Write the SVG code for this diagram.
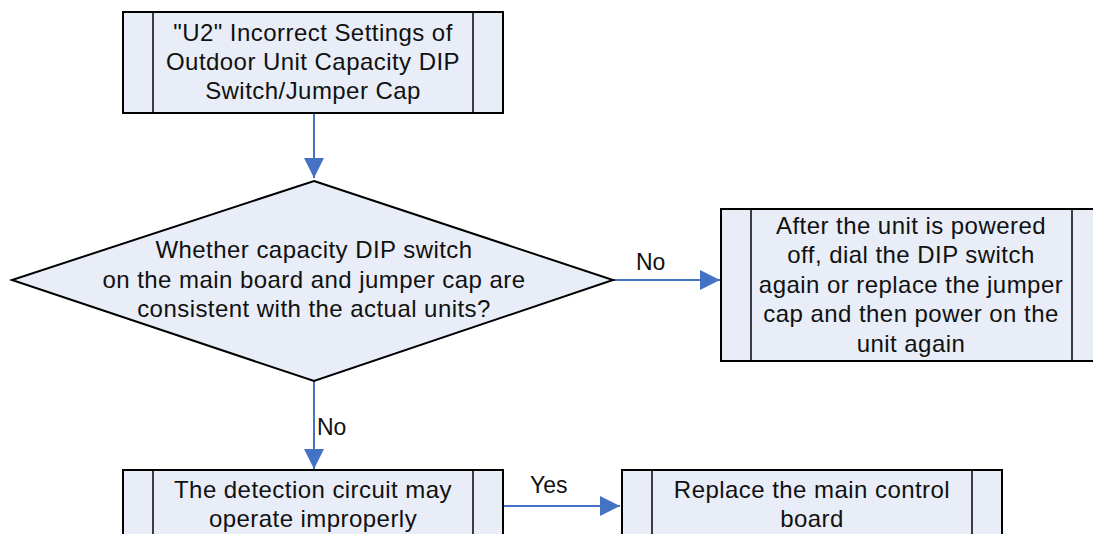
<svg xmlns="http://www.w3.org/2000/svg" width="1093" height="534" viewBox="0 0 1093 534">
<style>
.box{fill:#E8EDF7;stroke:#000;stroke-width:2}
.div{stroke:#000;stroke-width:1.5;fill:none}
.t{font-family:"Liberation Sans",Arial,sans-serif;font-size:24px;letter-spacing:0.45px;fill:#111;text-anchor:middle}
.lbl{font-family:"Liberation Sans",Arial,sans-serif;font-size:23px;fill:#111}
.c{stroke:#4472C4;stroke-width:2;fill:none;marker-end:url(#ah)}
</style>
<defs>
<marker id="ah" viewBox="0 0 20 20" refX="20" refY="10" markerWidth="20" markerHeight="20" markerUnits="userSpaceOnUse" orient="auto">
<path d="M0,0 L20,10 L0,20 z" fill="#4472C4"/>
</marker>
</defs>
<g id="connectors">
<path class="c" d="M314,113 L314,178"/>
<path class="c" d="M613,280 L720,280"/>
<path class="c" d="M314,381 L314,469"/>
<path class="c" d="M503,506 L620,506"/>
<text class="lbl" x="636" y="270">No</text>
<text class="lbl" x="317" y="435">No</text>
<text class="lbl" x="530" y="493">Yes</text>
</g>
<g id="start">
<rect class="box" x="123" y="12" width="380" height="101"/>
<line class="div" x1="153" y1="12" x2="153" y2="113"/>
<line class="div" x1="473" y1="12" x2="473" y2="113"/>
<text class="t" x="313" y="41">"U2" Incorrect Settings of</text>
<text class="t" x="313" y="70">Outdoor Unit Capacity DIP</text>
<text class="t" x="313" y="99">Switch/Jumper Cap</text>
</g>
<g id="decision">
<path class="box" d="M314,181 L613,280 L314,381 L12,280 Z"/>
<text class="t" x="314" y="258">Whether capacity DIP switch</text>
<text class="t" x="314" y="288">on the main board and jumper cap are</text>
<text class="t" x="314" y="317">consistent with the actual units?</text>
</g>
<g id="fix">
<rect class="box" x="721" y="209" width="381" height="152"/>
<line class="div" x1="751" y1="209" x2="751" y2="361"/>
<line class="div" x1="1072" y1="209" x2="1072" y2="361"/>
<text class="t" x="911" y="234">After the unit is powered</text>
<text class="t" x="911" y="263">off, dial the DIP switch</text>
<text class="t" x="911" y="293">again or replace the jumper</text>
<text class="t" x="911" y="322">cap and then power on the</text>
<text class="t" x="911" y="352">unit again</text>
</g>
<g id="detect">
<rect class="box" x="123" y="470" width="380" height="80"/>
<line class="div" x1="153" y1="470" x2="153" y2="550"/>
<line class="div" x1="473" y1="470" x2="473" y2="550"/>
<text class="t" x="313" y="498">The detection circuit may</text>
<text class="t" x="313" y="527">operate improperly</text>
</g>
<g id="replace">
<rect class="box" x="622" y="470" width="380" height="80"/>
<line class="div" x1="652" y1="470" x2="652" y2="550"/>
<line class="div" x1="972" y1="470" x2="972" y2="550"/>
<text class="t" x="812" y="498">Replace the main control</text>
<text class="t" x="812" y="527">board</text>
</g>
</svg>
